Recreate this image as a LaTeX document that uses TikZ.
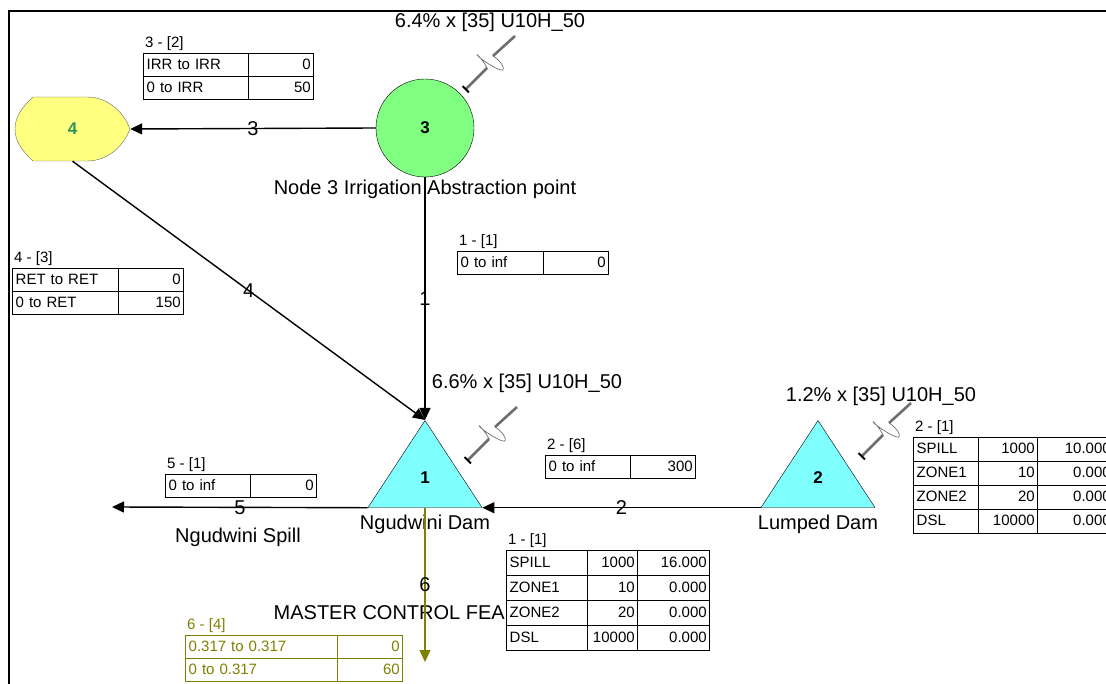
\documentclass[tikz,border=0pt]{standalone}
\usepackage{fontspec}
\setmainfont{Liberation Sans}
\usetikzlibrary{arrows.meta, positioning, shapes.geometric, calc, matrix}

\definecolor{damcyan}{RGB}{128,255,255}
\definecolor{nodegreen}{RGB}{128,255,128}
\definecolor{irryellow}{RGB}{255,255,128}
\definecolor{mcfolive}{RGB}{128,128,0}
\definecolor{inflowgray}{RGB}{110,110,110}
\definecolor{numgreen}{RGB}{40,150,90}

\tikzset{
  flow/.style={line width=1.4pt, -{Triangle[length=12pt,width=11pt]}},
  flowlabel/.style={font=\fontsize{20}{22}\selectfont, inner sep=0pt},
  biglabel/.style={font=\fontsize{20}{22}\selectfont, inner sep=0pt},
  numlabel/.style={font=\bfseries\fontsize{17}{19}\selectfont},
  dam/.style={isosceles triangle, isosceles triangle stretches, shape border rotate=90,
    minimum width=114pt, minimum height=87pt, inner sep=0pt, draw, fill=damcyan, numlabel},
  tcell/.style={draw, fill=white, line width=1pt, minimum height=23pt, inner xsep=3pt, inner ysep=0pt,
    text height=11pt, text depth=3pt, font=\fontsize{15}{16}\selectfont},
  thead/.style={anchor=south west, inner xsep=2pt, inner ysep=2pt, font=\fontsize{15}{16}\selectfont},
  ftable/.style 2 args={matrix of nodes, nodes={tcell}, column sep=-1pt, row sep=-1pt,
    matrix anchor=north west, inner sep=0pt,
    column 1/.style={nodes={text width=#1, align=left}},
    column 2/.style={nodes={text width=#2, align=right}}},
  rtable/.style n args={3}{matrix of nodes, nodes={tcell}, column sep=-1pt, row sep=-1pt,
    matrix anchor=north west, inner sep=0pt,
    column 1/.style={nodes={text width=#1, align=left}},
    column 2/.style={nodes={text width=#2, align=right}},
    column 3/.style={nodes={text width=#3, align=right}}},
  inflowline/.style={draw=inflowgray, line width=2.6pt},
  inflowzig/.style={draw=inflowgray, line width=0.7pt}
}

\begin{document}
\begin{tikzpicture}[x=1pt, y=-1pt]
  \useasboundingbox (0,0) rectangle (1106,684);
  \clip (0,0) rectangle (1106,684);

  % frame
  \draw[line width=2pt] (9,684) -- (9,11) -- (1106,11);

  % nodes
  \node[circle, draw, fill=nodegreen, minimum size=98pt, inner sep=0pt, numlabel] (n3) at (425,128) {3};
  \draw[fill=irryellow, draw=black!60] (33,97) -- (87,97) .. controls (110,97) and (125,115) .. (130,129)
    .. controls (125,143) and (110,161) .. (87,161) -- (33,161)
    .. controls (21,150) and (15,140) .. (15,129) .. controls (15,118) and (21,108) .. (33,97);
  \node[minimum width=115pt, minimum height=64pt, inner sep=0pt, numlabel, text=numgreen] (n4) at (72.5,129) {4};
  \node[dam, anchor=apex] (n1) at (425,420) {1};
  \node[dam, anchor=apex] (n2) at (818,420) {2};
  \coordinate (spillend) at (112,507);
  \coordinate (mcfend) at (425,662);

  \node[biglabel, below=3pt of n3] {Node 3 Irrigation Abstraction point};
  \node[biglabel, below=7pt of n1] {Ngudwini Dam};
  \node[biglabel, below=7pt of n2] {Lumped Dam};
  \node[biglabel] at (238,537) {Ngudwini Spill};
  \node[biglabel, anchor=east] at (505,613) {MASTER CONTROL FEA};

  % inflows
  \node[biglabel] at (490,22) {6.4\% x [35] U10H\_50};
  \node[biglabel] at (527,383) {6.6\% x [35] U10H\_50};
  \node[biglabel] at (881,396) {1.2\% x [35] U10H\_50};
  \foreach \sx/\sy in {515/36, 517/407, 911/403} {
    \begin{scope}[shift={(\sx,\sy)}]
      \draw[inflowline] (0,0) -- (-22,20);
      \draw[inflowzig] (-22,20) .. controls (-15,24) and (-10,32) .. (-12,34)
        .. controls (-15,36) and (-35,23) .. (-38,19)
        .. controls (-40,16) and (-31,25) .. (-28,32);
      \draw[inflowline, -{Bar[black, width=9pt, line width=2pt]}] (-28,32) -- (-50,54);
    \end{scope}
  }

  % routes
  \draw[flow] (n3.west) -- (n4.east) node[flowlabel, midway] {3};
  \draw[flow] (n3.south) -- (n1.apex) node[flowlabel, midway] {1};
  \draw[flow] (n4.south) -- (n1.apex) node[flowlabel, midway] {4};
  \draw[flow] (n2.left corner) -- (n1.right corner) node[flowlabel, midway] {2};
  \draw[flow] (n1.left corner) -- (spillend) node[flowlabel, midway] {5};
  \draw[flow, mcfolive] (n1.lower side) -- (mcfend) node[flowlabel, midway, text=black] {6};

  % tables
  \matrix (t32) [ftable={99pt}{59pt}] at (143,53) {IRR to IRR & 0\\ 0 to IRR & 50\\};
  \node[thead] at (t32.north west) {3 - [2]};
  \matrix (t43) [ftable={100pt}{59pt}] at (12,268) {RET to RET & 0\\ 0 to RET & 150\\};
  \node[thead] at (t43.north west) {4 - [3]};
  \matrix (t11) [ftable={80pt}{59pt}] at (457,251) {0 to inf & 0\\};
  \node[thead] at (t11.north west) {1 - [1]};
  \matrix (t26) [ftable={79pt}{59pt}] at (545,455) {0 to inf & 300\\};
  \node[thead] at (t26.north west) {2 - [6]};
  \matrix (t51) [ftable={79pt}{60pt}] at (165,474) {0 to inf & 0\\};
  \node[thead] at (t51.north west) {5 - [1]};
  \matrix (t64) [ftable={146pt}{59pt}, nodes={draw=mcfolive, text=mcfolive}] at (185,635)
    {0.317 to 0.317 & 0\\ 0 to 0.317 & 60\\};
  \node[thead, text=mcfolive] at (t64.north west) {6 - [4]};

  \matrix (r11) [rtable={75pt}{44pt}{66pt}, nodes={minimum height=25pt}] at (506,550)
    {SPILL & 1000 & 16.000\\ ZONE1 & 10 & 0.000\\ ZONE2 & 20 & 0.000\\ DSL & 10000 & 0.000\\};
  \node[thead] at (r11.north west) {1 - [1]};
  \matrix (r21) [rtable={59pt}{53pt}{70pt}, nodes={minimum height=24pt}] at (913,437)
    {SPILL & 1000 & 10.000\\ ZONE1 & 10 & 0.000\\ ZONE2 & 20 & 0.000\\ DSL & 10000 & 0.000\\};
  \node[thead] at (r21.north west) {2 - [1]};
\end{tikzpicture}
\end{document}
